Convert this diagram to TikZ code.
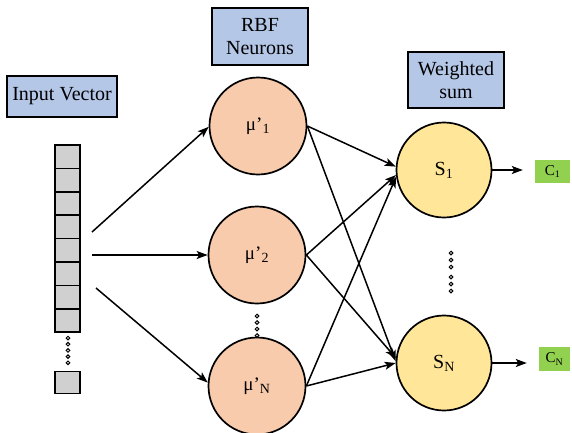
\documentclass[tikz,border=0pt]{standalone}
\usepackage{fontspec}
\setmainfont{Liberation Serif}
\usetikzlibrary{arrows.meta}
\definecolor{lblue}{HTML}{B4C7E7}
\definecolor{peach}{HTML}{F8CBAD}
\definecolor{lyellow}{HTML}{FFE699}
\definecolor{lgreen}{HTML}{92D050}
\definecolor{cellgray}{HTML}{D0D0D0}
\begin{document}
\begin{tikzpicture}[x=1pt,y=-1pt,
  label box/.style={draw=black, line width=1.6pt, fill=lblue, inner sep=0pt, align=center,
    font=\rmfamily\fontsize{20}{23}\selectfont},
  cellbox/.style={draw=black, line width=1.5pt, fill=cellgray, minimum width=25pt, minimum height=23.4pt, inner sep=0pt},
  rbf/.style={circle, draw=black, line width=1.7pt, fill=peach, minimum size=97pt, inner sep=0pt,
    font=\rmfamily\fontsize{19}{22}\selectfont},
  sumnode/.style={circle, draw=black, line width=1.7pt, fill=lyellow, minimum size=95pt, inner sep=0pt,
    font=\rmfamily\fontsize{20}{22}\selectfont},
  outbox/.style={fill=lgreen, inner sep=0pt, font=\rmfamily\fontsize{15}{17}\selectfont},
  conn/.style={line width=1.5pt, -{Stealth[length=11pt,width=8pt,inset=2.5pt]}},
  dot/.style={draw=black, line width=1pt, fill=white}
]
\useasboundingbox (0,0) rectangle (572,432);

% header boxes
\node[label box, minimum width=110pt, minimum height=41pt] (iv) at (62,96.5) {Input Vector};
\node[label box, minimum width=96pt, minimum height=57pt] (rb) at (260,36.5) {RBF\\Neurons};
\node[label box, minimum width=96pt, minimum height=56pt] (ws) at (456,80) {Weighted\\sum};

% input vector cells
\foreach \i in {1,...,8} {
  \node[cellbox] (v\i) at (67.5,{145+23.4*(\i-0.5)}) {};
}
\node[cellbox, minimum height=22pt] (vl) at (67.5,382.5) {};
\foreach \k in {0,...,4} {
  \draw[dot] (68,{338+6.2*\k}) circle (1.8pt);
}

% RBF neurons
\node[rbf] (m1) at (258,126) {μ’\textsubscript{\fontsize{14}{14}\selectfont 1}};
\node[rbf] (m2) at (257,255) {μ’\textsubscript{\fontsize{14}{14}\selectfont 2}};
\node[rbf] (m3) at (257,386) {μ’\textsubscript{\fontsize{14}{14}\selectfont N}};
\foreach \k in {0,...,3} {
  \draw[dot] (257,{316+6.5*\k}) circle (1.8pt);
}

% sum nodes
\node[sumnode] (s1) at (444,170) {S\textsubscript{\fontsize{14}{14}\selectfont 1}};
\node[sumnode] (sn) at (444,363) {S\textsubscript{\fontsize{14}{14}\selectfont N}};
\foreach \yy in {253,260,267,277,284,291} {
  \draw[dot] (451,\yy) circle (1.8pt);
}

% outputs
\node[outbox, minimum width=35pt, minimum height=23pt] (c1) at (552.5,171.5) {C\textsubscript{\fontsize{10}{10}\selectfont 1}};
\node[outbox, minimum width=31pt, minimum height=24pt] (cn) at (554.5,359) {C\textsubscript{\fontsize{10}{10}\selectfont N}};

% input arrows
\coordinate (a1) at (92,232);
\coordinate (a2) at (92,255);
\coordinate (a3) at (96,288);
\draw[conn] (a1) -- (m1.181);
\draw[conn] (a2) -- (m2.west);
\draw[conn] (a3) -- (m3.176);

% hidden to sum
\draw[conn] (m1.east) -- (s1.176);
\draw[conn] (m1.east) -- (sn.178);
\draw[conn] (m2.east) -- (s1.186);
\draw[conn] (m2.east) -- (sn.174);
\draw[conn] (m3.east) -- (s1.188);
\draw[conn] (m3.east) -- (sn.west);

% outputs
\draw[conn, shorten >=12pt] (s1.east) -- (c1.west |- s1.east);
\draw[conn, shorten >=12pt] (sn.east) -- (cn.west |- sn.east);
\end{tikzpicture}
\end{document}
